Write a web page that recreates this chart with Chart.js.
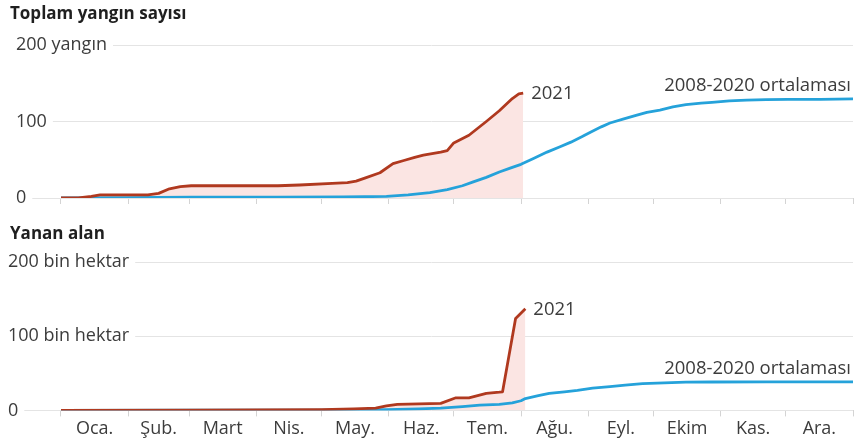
<!DOCTYPE html>
<html>
<head>
<meta charset="utf-8">
<script src="https://cdn.jsdelivr.net/npm/chart.js@4"></script>
<style>
  body { margin: 0; background: #fff; }
  #wrap { position: relative; width: 859px; height: 445px; }
  canvas { position: absolute; left: 0; }
  #firesChart { top: 0; }
  #areaChart { top: 215px; }
</style>
</head>
<body>
<div id="wrap">
  <canvas id="firesChart" width="859" height="212"></canvas>
  <canvas id="areaChart" width="859" height="230"></canvas>
</div>
<script>
// months (x axis is day of year)
const monthNames = ["Oca.", "Şub.", "Mart", "Nis.", "May.", "Haz.", "Tem.", "Ağu.", "Eyl.", "Ekim", "Kas.", "Ara."];
const monthStarts = [0, 31, 59, 90, 120, 151, 181, 212, 243, 273, 304, 334, 365];
const yTickValues = [0, 100, 200];

// Toplam yangın sayısı
const fireDays2021 = [0, 8, 14, 18, 25, 40, 45, 50, 55, 60, 100, 110, 125, 132, 136, 140, 147, 153, 158, 163, 167, 175, 178, 181, 188, 196, 202, 208, 211, 213];
const fires2021 = [0, 0, 2, 4, 4, 4, 6, 12, 15, 16, 16, 17, 19, 20, 22, 26, 33, 45, 49, 53, 56, 60, 62, 72, 82, 100, 114, 130, 136, 137];
const fireDaysAvg = [0, 30, 60, 100, 130, 150, 160, 170, 178, 185, 190, 196, 202, 207, 212, 218, 224, 230, 235, 240, 244, 249, 253, 259, 265, 270, 276, 282, 288, 295, 300, 308, 316, 325, 335, 350, 365];
const firesAvg = [0, 0.5, 1, 1, 1.5, 2, 4, 7, 11, 16, 21, 27, 34, 39, 44, 52, 60, 67, 73, 80, 86, 93, 98, 103, 108, 112, 115, 119, 122, 124, 125, 127, 128, 128.5, 129, 129, 129.5];

// Yanan alan (bin hektar)
const areaDays2021 = [0, 60, 120, 135, 145, 150, 155, 175, 182, 188, 196, 202, 203.5, 209.5, 214];
const area2021 = [0, 0.5, 1, 2, 3, 6, 8, 9.5, 17, 17, 23, 24.5, 25, 124, 137];
const areaDaysAvg = [0, 60, 120, 150, 165, 175, 185, 193, 202, 208, 212, 214, 220, 225, 232, 238, 245, 253, 260, 268, 278, 288, 300, 325, 365];
const areaAvg = [0, 0.3, 0.5, 1, 2, 3, 5, 7, 8, 10, 13, 16, 20, 23, 25, 27, 30, 32, 34, 36, 37, 38, 38.3, 38.5, 38.5];

const label2021 = "2021";
const labelAvg = "2008-2020 ortalaması";

const fontFamily = "'Open Sans', 'Noto Sans', sans-serif";
const textColor = "#3c3c3c";
const red = "#b0391f";
const blue = "#25a2da";

const monthMids = monthNames.map((_, i) => (monthStarts[i] + monthStarts[i + 1]) / 2);
const xTickValues = monthStarts.concat(monthMids).sort((a, b) => a - b);

const toPoints = (days, vals) => days.map((d, i) => ({ x: d, y: vals[i] }));

function xAxis(showLabels) {
  return {
    type: "linear",
    min: -23.5,
    max: 365,
    afterBuildTicks: axis => { axis.ticks = xTickValues.map(v => ({ value: v })); },
    afterFit: axis => { axis.paddingLeft = 0; axis.paddingRight = 0; },
    border: { display: false },
    grid: {
      drawOnChartArea: false,
      drawTicks: true,
      tickLength: 6,
      color: c => (c.tick && monthStarts.includes(c.tick.value)) ? "#d4d4d4" : "rgba(0,0,0,0)"
    },
    ticks: {
      display: showLabels,
      autoSkip: false,
      maxRotation: 0,
      padding: 2,
      color: textColor,
      font: { family: fontFamily, size: 18 },
      callback: value => {
        const i = monthMids.indexOf(value);
        return i >= 0 ? monthNames[i] : "";
      }
    }
  };
}

function yAxis(labelFor, pad) {
  return {
    min: 0,
    max: 200,
    afterBuildTicks: axis => { axis.ticks = yTickValues.map(v => ({ value: v })); },
    afterFit: axis => { axis.width = 0; axis.paddingTop = 0; axis.paddingBottom = 0; },
    border: { display: false },
    grid: { color: "#e4e4e4", drawTicks: false, lineWidth: 1 },
    ticks: {
      mirror: true,
      padding: pad,
      color: textColor,
      font: { family: fontFamily, size: 18 },
      showLabelBackdrop: true,
      backdropColor: "#ffffff",
      backdropPadding: { top: 1, bottom: 1, left: 16, right: 6 },
      callback: labelFor
    }
  };
}

// text next to the end of each line
const endLabels = {
  id: "endLabels",
  afterDatasetsDraw(chart) {
    const ctx = chart.ctx;
    ctx.save();
    ctx.font = "18.5px " + fontFamily;
    ctx.fillStyle = textColor;
    chart.data.datasets.forEach((ds, i) => {
      const pts = chart.getDatasetMeta(i).data;
      const last = pts[pts.length - 1];
      if (ds.endSide === "right") {
        ctx.textAlign = "left";
        ctx.textBaseline = "middle";
        ctx.fillText(ds.label, last.x + 8, last.y + 1);
      } else {
        ctx.textAlign = "right";
        ctx.textBaseline = "alphabetic";
        ctx.fillText(ds.label, last.x - 2, last.y - 8);
      }
    });
    ctx.restore();
  }
};

function makeChart(id, title, titlePad, days21, vals21, daysAvg, valsAvg, yLabel, yPad, showMonths, bottomPad) {
  return new Chart(document.getElementById(id), {
    type: "line",
    data: {
      datasets: [
        {
          label: label2021,
          endSide: "right",
          data: toPoints(days21, vals21),
          borderColor: red,
          backgroundColor: "#fbe5e3",
          borderWidth: 2.8,
          fill: "origin",
          tension: 0,
          pointRadius: 0,
          borderJoinStyle: "round"
        },
        {
          label: labelAvg,
          endSide: "above",
          data: toPoints(daysAvg, valsAvg),
          borderColor: blue,
          borderWidth: 2.8,
          fill: false,
          tension: 0,
          pointRadius: 0,
          borderJoinStyle: "round"
        }
      ]
    },
    options: {
      responsive: false,
      animation: false,
      layout: { padding: { left: 10, right: 6, top: 0, bottom: bottomPad } },
      plugins: {
        legend: { display: false },
        tooltip: { enabled: false },
        filler: { drawTime: "beforeDatasetsDraw" },
        title: {
          display: true,
          text: title,
          align: "start",
          color: "#1f1f1f",
          font: { family: fontFamily, size: 17, weight: "bold" },
          padding: titlePad
        }
      },
      scales: {
        x: xAxis(showMonths),
        y: yAxis(yLabel, yPad)
      }
    },
    plugins: [endLabels]
  });
}

makeChart("firesChart", "Toplam yangın sayısı", { top: 4, bottom: 20.6 },
  fireDays2021, fires2021, fireDaysAvg, firesAvg,
  v => v === 200 ? "200 yangın" : String(v), 6, false, 8);

makeChart("areaChart", "Yanan alan", { top: 9, bottom: 17.6 },
  areaDays2021, area2021, areaDaysAvg, areaAvg,
  v => v === 0 ? "0" : v + " bin hektar", -2, true, 3);
</script>
</body>
</html>
